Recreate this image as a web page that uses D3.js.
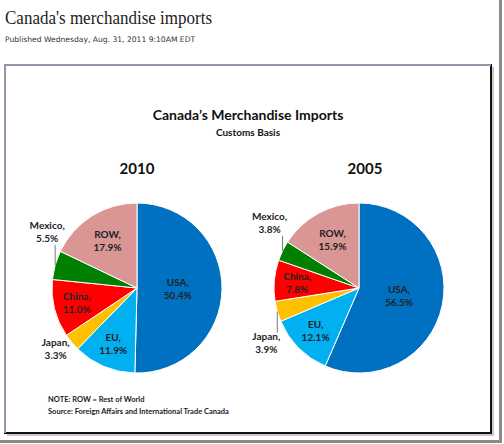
<!DOCTYPE html>
<html>
<head>
<meta charset="utf-8">
<script src="https://cdn.jsdelivr.net/npm/d3@7"></script>
<style>
  html, body { margin: 0; padding: 0; background: #fff; }
  svg { display: block; }
</style>
</head>
<body>
<svg id="chart" width="504" height="444"></svg>
<script>
// slice order runs clockwise from 12 o'clock, like the Excel original
var regions = ["USA", "EU", "Japan", "China", "Mexico", "ROW"];
var shares2010 = [50.4, 11.9, 3.3, 11.0, 5.5, 17.9];
var shares2005 = [56.5, 12.1, 3.9, 7.8, 3.8, 15.9];
var years = ["2010", "2005"];

var colors = {
  USA: "#0070c0",
  EU: "#00b0f0",
  Japan: "#ffc000",
  China: "#ff0000",
  Mexico: "#008000",
  ROW: "#d99694"
};

// where the inside labels sit, as a fraction of the radius
var labelR = { USA: 0.48, EU: 0.72, China: 0.73, ROW: 0.65 };

var svg = d3.select("#chart");

// page frame (screenshot edge)
svg.append("line").attr("x1", 500.5).attr("y1", 0).attr("x2", 500.5).attr("y2", 441)
  .attr("stroke", "#8a8a8a").attr("stroke-width", 3);
svg.append("line").attr("x1", 0).attr("y1", 441.5).attr("x2", 502).attr("y2", 441.5)
  .attr("stroke", "#8a8a8a").attr("stroke-width", 3);

// headline
svg.append("text")
  .attr("x", 5).attr("y", 24)
  .attr("font-family", "Liberation Serif, serif")
  .attr("font-size", 19)
  .attr("fill", "#222")
  .attr("textLength", 207)
  .attr("lengthAdjust", "spacingAndGlyphs")
  .text("Canada's merchandise imports");

svg.append("text")
  .attr("x", 5).attr("y", 42)
  .attr("font-family", "DejaVu Sans, sans-serif")
  .attr("font-size", 7.6)
  .attr("fill", "#333")
  .text("Published Wednesday, Aug. 31, 2011 9:10AM EDT");

// chart box with a shadowed right/bottom edge
svg.append("rect").attr("x", 7).attr("y", 67).attr("width", 487).attr("height", 369)
  .attr("fill", "#c8c8c8");
svg.append("rect").attr("x", 5).attr("y", 65).attr("width", 486).attr("height", 368)
  .attr("fill", "#fff").attr("stroke", "#111").attr("stroke-width", 2);
svg.append("path").attr("d", "M5,433 V65 H491")
  .attr("fill", "none").attr("stroke", "#9298ac").attr("stroke-width", 2);

var font = "Lato, 'Open Sans', sans-serif";

svg.append("text")
  .attr("x", 248).attr("y", 120)
  .attr("text-anchor", "middle")
  .attr("font-family", font).attr("font-weight", "bold")
  .attr("font-size", 14).attr("fill", "#111")
  .text("Canada\u2019s Merchandise Imports");

svg.append("text")
  .attr("x", 248).attr("y", 136)
  .attr("text-anchor", "middle")
  .attr("font-family", font).attr("font-weight", "bold")
  .attr("font-size", 10).attr("fill", "#111")
  .text("Customs Basis");

var radius = 85;
var cx = d3.scalePoint().domain(years).range([137, 359]);
var cy = 288;

var pie = d3.pie().sort(null).value(function(d) { return d.value; });
var arc = d3.arc().innerRadius(0).outerRadius(radius);

// outside labels: offset of the text block from the slice's edge point
var outside = {
  "2010": {
    Mexico: { line: -20, dx: -8 },
    Japan: { line: 0, dx: -16, dy: 4 }
  },
  "2005": {
    Mexico: { line: -15, dx: -13 },
    Japan: { line: 21, dx: -11 }
  }
};

function drawPie(year, values) {
  var data = regions.map(function(r, i) { return { name: r, value: values[i] }; });
  var g = svg.append("g")
    .attr("transform", "translate(" + cx(year) + "," + cy + ")");

  g.append("text")
    .attr("y", -114)
    .attr("x", year === "2010" ? 0 : 6)
    .attr("text-anchor", "middle")
    .attr("font-family", font).attr("font-weight", "bold")
    .attr("font-size", 15).attr("fill", "#111")
    .text(year);

  var slices = pie(data);

  g.selectAll("path.slice")
    .data(slices)
    .enter()
    .append("path")
    .attr("class", "slice")
    .attr("d", arc)
    .attr("fill", function(d) { return colors[d.data.name]; })
    .attr("stroke", "#fff")
    .attr("stroke-width", 1);

  slices.forEach(function(d) {
    var mid = (d.startAngle + d.endAngle) / 2;
    var lines = [d.data.name + ",", d3.format(".1f")(d.data.value) + "%"];
    var o = outside[year][d.data.name];
    var x, y0;
    if (o) {
      var ex = radius * Math.sin(mid), ey = -radius * Math.cos(mid);
      if (o.line !== 0) {
        g.append("line")
          .attr("x1", ex).attr("y1", ey)
          .attr("x2", ex).attr("y2", ey + o.line)
          .attr("stroke", "#777").attr("stroke-width", 1);
      }
      x = ex + o.dx;
      if (o.line < 0) y0 = ey + o.line - 16;
      else if (o.line > 0) y0 = ey + o.line + 8;
      else y0 = ey + o.dy;
    } else {
      var rr = radius * labelR[d.data.name];
      x = rr * Math.sin(mid);
      y0 = -rr * Math.cos(mid) - 3;
    }
    g.append("text")
      .attr("text-anchor", "middle")
      .attr("font-family", font).attr("font-weight", "bold")
      .attr("font-size", 10).attr("fill", "#222")
      .selectAll("tspan")
      .data(lines)
      .enter()
      .append("tspan")
      .attr("x", x)
      .attr("y", function(t, i) { return y0 + i * 13; })
      .text(function(t) { return t; });
  });
}

drawPie("2010", shares2010);
drawPie("2005", shares2005);

svg.append("text")
  .attr("x", 48).attr("y", 402)
  .attr("font-family", font).attr("font-weight", "bold")
  .attr("font-size", 7.5).attr("fill", "#222")
  .text("NOTE: ROW = Rest of World");

svg.append("text")
  .attr("x", 48).attr("y", 414)
  .attr("font-family", font).attr("font-weight", "bold")
  .attr("font-size", 7.5).attr("fill", "#222")
  .text("Source: Foreign Affairs and International Trade Canada");
</script>
</body>
</html>
